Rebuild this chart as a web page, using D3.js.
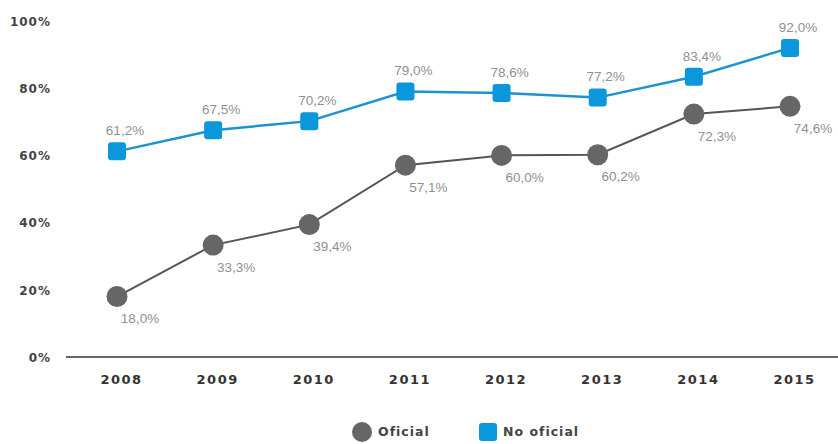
<!DOCTYPE html>
<html>
<head>
<meta charset="utf-8">
<script src="https://cdn.jsdelivr.net/npm/d3@7"></script>
<style>
  html, body { margin: 0; padding: 0; background: #ffffff; }
  svg { display: block; }
</style>
</head>
<body>
<svg id="chart" width="838" height="444"></svg>
<script>
// Annual shares, 2008–2015
const years = ["2008", "2009", "2010", "2011", "2012", "2013", "2014", "2015"];
const oficial = [18.0, 33.3, 39.4, 57.1, 60.0, 60.2, 72.3, 74.6];
const noOficial = [61.2, 67.5, 70.2, 79.0, 78.6, 77.2, 83.4, 92.0];
const yTicks = [0, 20, 40, 60, 80, 100];
const legendLabels = ["Oficial", "No oficial"];

const grey = "#666666";
const greyLine = "#555555";
const blue = "#0a97db";
const blueLine = "#1b93d3";
const fmt = v => v.toFixed(1).replace(".", ",") + "%";

const svg = d3.select("#chart");

const x = d3.scalePoint().domain(years).range([117, 790]);
const y = d3.scaleLinear().domain([0, 100]).range([357, 21]);

// Y axis: labels only
const yAxis = d3.axisLeft(y).tickValues(yTicks).tickFormat(d => d + "%").tickSize(0).tickPadding(0);
const gy = svg.append("g").attr("transform", "translate(51,0)").call(yAxis);
gy.select(".domain").remove();
gy.selectAll("text")
  .attr("fill", "#444")
  .style("font-family", "'DejaVu Sans', sans-serif")
  .style("font-weight", "bold")
  .style("font-size", "12px")
  .style("letter-spacing", "1px")
  .attr("dy", "0.35em");

// X axis: baseline plus year labels
const xAxis = d3.axisBottom(x).tickSize(0).tickPadding(18);
const gx = svg.append("g").attr("transform", `translate(0,${y(0)})`).call(xAxis);
gx.select(".domain").remove();
gx.append("line")
  .attr("x1", 66).attr("x2", 838)
  .attr("y1", 0).attr("y2", 0)
  .attr("stroke", "#333").attr("stroke-width", 1.5);
gx.selectAll(".tick text")
  .attr("fill", "#333")
  .attr("dx", "4")
  .style("font-family", "'DejaVu Sans', sans-serif")
  .style("font-weight", "bold")
  .style("font-size", "13px")
  .style("letter-spacing", "1.5px");

const line = d3.line().x(d => x(d.year)).y(d => y(d.v));
const toPts = arr => arr.map((v, i) => ({ year: years[i], v }));

// Oficial series
const ofPts = toPts(oficial);
svg.append("path").datum(ofPts)
  .attr("d", line).attr("fill", "none")
  .attr("stroke", greyLine).attr("stroke-width", 2);
svg.append("g").selectAll("circle").data(ofPts).join("circle")
  .attr("cx", d => x(d.year)).attr("cy", d => y(d.v))
  .attr("r", 10.5).attr("fill", grey);
svg.append("g").selectAll("text").data(ofPts).join("text")
  .attr("x", d => x(d.year) + 23).attr("y", d => y(d.v) + 22)
  .attr("dy", "0.35em").attr("text-anchor", "middle")
  .attr("fill", "#909090")
  .style("font-family", "'Liberation Sans', Arial, sans-serif")
  .style("font-size", "13.5px")
  .text(d => fmt(d.v));

// No oficial series
const noPts = toPts(noOficial);
svg.append("path").datum(noPts)
  .attr("d", line).attr("fill", "none")
  .attr("stroke", blueLine).attr("stroke-width", 2.5);
svg.append("g").selectAll("rect").data(noPts).join("rect")
  .attr("x", d => x(d.year) - 9).attr("y", d => y(d.v) - 9)
  .attr("width", 18).attr("height", 18).attr("rx", 3)
  .attr("fill", blue);
svg.append("g").selectAll("text").data(noPts).join("text")
  .attr("x", d => x(d.year) + 8).attr("y", d => y(d.v) - 21)
  .attr("dy", "0.35em").attr("text-anchor", "middle")
  .attr("fill", "#909090")
  .style("font-family", "'Liberation Sans', Arial, sans-serif")
  .style("font-size", "13.5px")
  .text(d => fmt(d.v));

// Legend
const legend = svg.append("g").attr("transform", "translate(0,432)");
legend.append("circle").attr("cx", 362).attr("cy", 0).attr("r", 10).attr("fill", grey);
legend.append("rect").attr("x", 479).attr("y", -9).attr("width", 18).attr("height", 18).attr("rx", 3).attr("fill", blue);
legend.selectAll("text").data(legendLabels).join("text")
  .attr("x", (d, i) => i === 0 ? 378 : 503)
  .attr("y", 0).attr("dy", "0.35em")
  .attr("fill", "#444")
  .style("font-family", "'DejaVu Sans', sans-serif")
  .style("font-weight", "bold")
  .style("font-size", "12.5px")
  .style("letter-spacing", "1px")
  .text(d => d);
</script>
</body>
</html>
